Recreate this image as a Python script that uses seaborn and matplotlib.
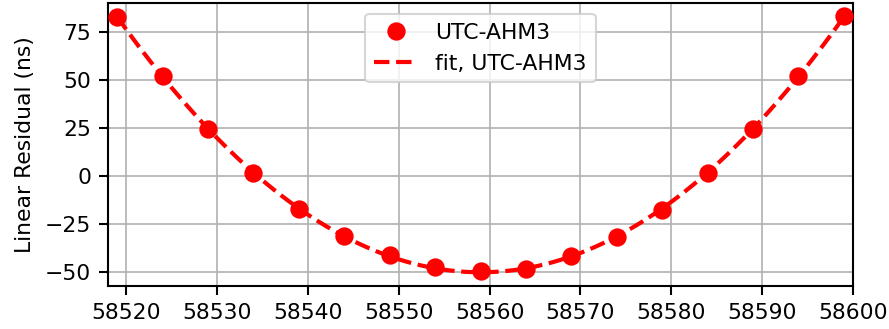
import numpy as np
import pandas as pd
import matplotlib
matplotlib.use("Agg")
import matplotlib.pyplot as plt
import seaborn as sns

# MJD sample epochs and linear residuals (ns) for UTC-AHM3
mjd = [58519, 58524, 58529, 58534, 58539, 58544, 58549, 58554, 58559,
       58564, 58569, 58574, 58579, 58584, 58589, 58594, 58599]
residual = [82.8, 51.8, 24.5, 1.8, -17.0, -31.2, -41.2, -47.4, -49.5,
            -48.0, -41.4, -31.6, -17.5, 1.8, 24.5, 51.8, 83.2]
yticks = [-50, -25, 0, 25, 50, 75]
xticks = [58520, 58530, 58540, 58550, 58560, 58570, 58580, 58590, 58600]

df = pd.DataFrame({"mjd": mjd, "residual": residual})

# quadratic fit of the residuals
coef = np.polyfit(df["mjd"] - df["mjd"].mean(), df["residual"], 2)
xfit = np.linspace(df["mjd"].min(), df["mjd"].max(), 200)
fit = pd.DataFrame({"mjd": xfit,
                    "residual": np.polyval(coef, xfit - df["mjd"].mean())})

sns.set_style("ticks")
plt.rcParams["font.family"] = ["DejaVu Sans"]
for key in ["text.color", "axes.labelcolor", "xtick.color", "ytick.color"]:
    plt.rcParams[key] = "black"

fs = 10.5
fig = plt.figure(figsize=(889 / 150, 329 / 150), dpi=150)
ax = fig.add_axes([0.1215, 0.131, 0.838, 0.860])

sns.lineplot(data=df, x="mjd", y="residual", ax=ax, color="red",
             marker="o", markersize=8.8, markeredgewidth=0, linestyle="",
             label="UTC-AHM3", zorder=3)
sns.lineplot(data=fit, x="mjd", y="residual", ax=ax, color="red",
             linestyle="--", linewidth=2, label="fit, UTC-AHM3", zorder=2)

ax.set_xlim(58518, 58600)
ax.set_ylim(-57, 90)
ax.set_xticks(xticks)
ax.set_yticks(yticks)
ax.grid(True, color="#b0b0b0", linewidth=0.8)
ax.set_axisbelow(True)
ax.set_xlabel("")
ax.set_ylabel("Linear Residual (ns)", labelpad=5, fontsize=fs)
ax.tick_params(direction="out", length=4.5, width=1.0, color="black",
               labelsize=fs, pad=3.5)
for sp in ax.spines.values():
    sp.set_visible(True)
    sp.set_color("black")
    sp.set_linewidth(1.0)

ax.legend(loc="upper center", frameon=True, framealpha=0.8,
          edgecolor="#cccccc", fontsize=fs)

fig.savefig("out.png", dpi=150)
